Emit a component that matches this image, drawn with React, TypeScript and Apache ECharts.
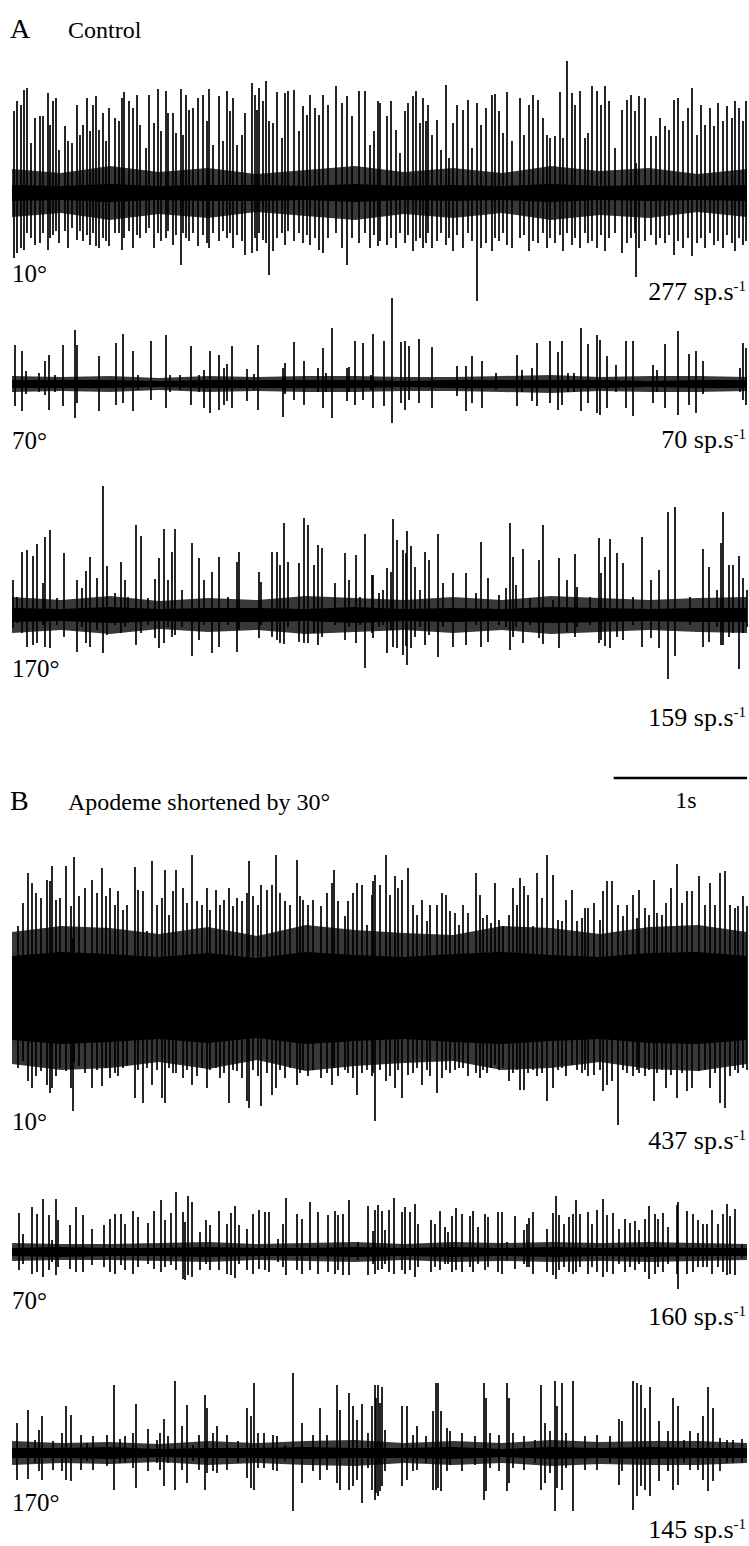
import React, { useEffect, useRef } from "react";
import * as echarts from "echarts";

// ---------- DATA ----------
// time is stored as sample-bin index (1 bin = 7.5 ms); amplitudes in arbitrary units
const BIN_MS = 7.5;
const N_BINS = 735;
const SCALE_BAR_MS = 1000;

const PANEL_LETTERS = ["A", "B"];
const PANEL_TITLES = ["Control", "Apodeme shortened by 30°"];
const ANGLES = ["10°", "70°", "170°", "10°", "70°", "170°"];
const RATES = ["277", "70", "159", "437", "160", "145"];
const RATE_UNIT = "sp.s";
const RATE_EXP = "-1";

const NOISE_BINS = [0, 49, 98, 147, 196, 245, 294, 343, 392, 441, 490, 539, 588, 637, 686, 735];

// [bin, up, down]
const A1_SPIKES = [
  [2,82,65],[5,92,60],[9,88,55],[12,103,57],[15,105,40],[19,50,45],[23,75,52],[28,77,50],[31,77,40],[36,100,57],
  [38,68,45],[41,92,42],[44,95,38],[47,43,50],[53,67,38],[56,52,55],[60,50,35],[65,88,47],[68,58,38],[71,68,48],
  [75,95,42],[78,62,52],[81,88,40],[84,97,53],[87,63,55],[91,80,45],[94,52,48],[97,85,53],[103,75,40],[107,72,40],
  [110,95,57],[112,101,45],[117,92,38],[121,85,55],[125,98,42],[128,68,45],[134,45,40],[137,98,35],[142,70,55],[146,104,40],
  [149,62,48],[154,102,45],[156,80,38],[161,80,52],[164,60,42],[169,104,72],[171,58,40],[174,98,45],[177,83,48],[181,85,40],
  [186,95,53],[191,98,42],[195,72,50],[197,104,55],[201,48,40],[207,97,48],[211,52,38],[215,102,45],[218,82,40],[221,95,55],
  [225,48,42],[230,58,48],[233,80,62],[240,110,60],[243,98,45],[245,83,58],[247,105,40],[251,92,47],[254,112,50],[257,72,82],
  [261,70,58],[265,101,45],[270,55,40],[273,100,52],[276,102,38],[282,103,48],[287,62,40],[291,87,50],[295,78,42],[298,98,52],
  [303,85,45],[307,78,57],[311,98,60],[316,88,45],[324,107,40],[330,90,55],[335,97,72],[340,77,45],[347,102,50],[353,102,40],
  [358,48,55],[362,62,42],[366,92,53],[368,90,48],[375,77,52],[379,92,45],[384,63,55],[388,40,40],[393,82,50],[396,90,42],
  [401,97,58],[404,102,48],[408,70,45],[411,95,55],[414,72,50],[416,88,40],[420,58,55],[425,73,48],[429,43,40],[434,108,52],
  [437,35,45],[441,70,58],[445,88,42],[451,83,55],[456,93,40],[460,45,48],[465,90,108],[469,68,55],[474,85,50],[480,98,58],
  [483,99,45],[487,82,48],[491,60,40],[495,101,52],[500,52,55],[508,95,45],[512,58,42],[517,88,58],[521,98,48],[526,93,50],
  [531,75,40],[535,58,55],[538,55,45],[543,57,50],[548,101,42],[551,55,58],[555,132,40],[560,100,52],[563,88,45],[568,102,55],
  [573,55,40],[576,60,50],[580,107,48],[585,102,55],[589,88,42],[593,107,58],[597,92,45],[603,45,40],[610,83,60],[615,93,50],
  [619,98,45],[623,82,40],[624,30,84],[627,97,55],[633,95,48],[639,57,42],[644,57,52],[648,75,45],[653,67,50],[657,63,42],
  [662,93,62],[666,95,48],[671,72,55],[676,85,45],[680,105,63],[685,58,50],[689,88,45],[693,68,55],[698,85,40],[702,67,52],
  [706,90,48],[711,72,55],[715,87,42],[720,75,50],[723,92,58],[727,85,45],[731,72,52],[734,92,48],
];
const A1_NOISE_CORE = [8, 7, 9, 7, 8, 8, 7, 9, 7, 8, 7, 9, 7, 8, 7, 8];
const A1_NOISE_HAIR = [24, 20, 27, 21, 25, 19, 23, 27, 21, 25, 20, 27, 22, 25, 19, 24];

const A2_SPIKES = [
  [3,39,22],[10,33,27],[14,13,10],[27,11,8],[33,23,11],[37,29,26],[43,9,8],[51,39,22],[63,54,34],[65,39,19],
  [87,28,27],[104,41,21],[111,50,19],[121,33,27],[126,9,6],[139,43,16],[154,49,24],[158,9,8],[168,9,6],[179,38,21],
  [187,9,8],[192,14,24],[198,33,29],[207,29,26],[212,16,21],[215,20,17],[220,38,24],[235,15,17],[242,10,6],[246,39,26],
  [271,16,33],[273,21,10],[282,42,16],[292,23,21],[306,16,8],[311,36,24],[314,11,8],[320,56,34],[335,16,17],[337,17,8],
  [343,43,21],[351,41,16],[359,9,6],[361,50,24],[372,43,22],[380,86,39],[389,42,19],[393,43,26],[397,38,16],[407,45,19],
  [420,37,24],[445,18,12],[454,18,27],[460,28,19],[470,23,24],[484,11,6],[505,29,22],[510,14,8],[520,16,17],[525,41,22],
  [538,43,19],[546,32,26],[550,43,21],[556,11,8],[562,11,8],[569,56,27],[576,40,19],[585,49,29],[588,44,31],[595,28,24],
  [604,19,8],[614,43,24],[621,43,32],[641,19,19],[645,14,8],[653,40,24],[666,53,31],[677,30,21],[684,33,29],[691,23,10],
  [728,16,8],[731,41,16],[734,36,21],
];
const A2_NOISE_CORE = [4, 4, 4, 3, 4, 4, 4, 4, 3, 4, 4, 4, 4, 3, 4, 4];
const A2_NOISE_HAIR = [8, 7, 8, 6, 8, 7, 8, 8, 7, 7, 8, 9, 7, 8, 8, 7];

const A3_SPIKES = [
  [1,35,13],[5,18,8],[10,63,18],[15,65,32],[21,59,30],[25,71,28],[31,32,10],[33,78,32],[38,85,33],[45,17,10],
  [52,62,22],[65,35,37],[70,27,12],[74,44,28],[78,58,32],[85,37,15],[91,129,38],[95,49,20],[103,22,10],[109,53,18],
  [113,35,12],[116,18,8],[124,90,30],[129,79,18],[136,17,10],[143,36,23],[147,57,33],[152,86,28],[156,35,12],[160,63,22],
  [163,86,20],[170,25,12],[180,72,41],[187,57,25],[192,35,10],[200,43,38],[207,58,32],[216,18,10],[225,53,37],[227,63,15],
  [247,43,23],[249,33,10],[260,63,22],[265,63,25],[268,50,28],[272,92,29],[276,53,12],[287,52,27],[292,97,28],[296,90,28],
  [302,50,18],[306,70,30],[310,67,22],[323,32,10],[333,62,25],[337,35,12],[344,60,28],[348,18,10],[353,81,53],[360,40,18],
  [361,40,23],[367,22,12],[371,25,10],[375,47,38],[379,43,15],[381,96,32],[385,75,33],[391,65,40],[394,62,31],[395,84,50],
  [399,69,33],[403,48,22],[408,25,12],[413,63,30],[417,55,20],[426,81,42],[431,32,12],[441,42,32],[454,42,30],[464,22,10],
  [469,73,32],[476,37,27],[487,20,10],[494,27,12],[498,92,35],[501,58,22],[504,30,12],[511,66,28],[518,17,10],[527,55,23],
  [531,90,29],[541,15,8],[547,57,33],[555,35,17],[563,61,22],[565,28,12],[578,18,10],[587,77,28],[589,42,25],[593,58,31],
  [598,76,33],[605,62,22],[611,52,25],[621,18,10],[630,78,32],[639,35,23],[647,45,33],[656,103,64],[663,108,41],[678,18,10],
  [691,66,32],[697,48,27],[705,25,12],[709,72,30],[711,103,30],[717,50,22],[721,50,18],[727,59,54],[731,37,18],[735,25,12],
];
const A3_NOISE_CORE = [7, 6, 8, 6, 7, 7, 6, 8, 6, 7, 6, 8, 7, 6, 7, 7];
const A3_NOISE_HAIR = [18, 15, 19, 14, 17, 15, 19, 17, 15, 18, 15, 19, 17, 15, 17, 18];

const B1_SPIKES = [
  [6,72,70],[11,95,63],[16,125,83],[20,115,90],[24,105,78],[29,100,73],[35,118,87],[38,117,95],[40,132,90],[44,98,78],
  [48,100,70],[54,132,73],[59,92,90],[61,60,113],[62,141,65],[67,102,68],[73,110,75],[80,118,90],[85,105,72],[90,130,88],
  [94,102,70],[98,110,80],[103,93,75],[106,107,78],[111,88,70],[115,93,68],[123,131,100],[126,108,72],[131,107,105],[135,67,70],
  [140,137,87],[145,93,72],[150,100,100],[153,128,105],[157,83,70],[161,107,75],[164,128,75],[171,110,80],[175,95,72],[180,143,87],
  [185,97,78],[190,93,70],[195,110,90],[198,88,72],[204,108,70],[208,93,80],[212,98,75],[217,110,105],[221,92,72],[225,100,73],
  [230,97,80],[235,105,103],[237,137,110],[241,102,72],[246,93,78],[249,113,108],[255,108,75],[260,113,97],[264,143,90],[268,105,72],
  [273,97,80],[278,93,70],[285,138,87],[288,102,75],[291,98,72],[296,93,78],[301,98,72],[309,92,80],[315,105,75],[320,115,87],
  [322,128,70],[326,97,78],[333,82,72],[336,97,75],[341,105,80],[345,115,97],[350,113,75],[355,73,72],[360,103,78],[361,117,75],
  [363,123,123],[368,113,72],[374,143,83],[378,103,78],[383,122,90],[386,110,72],[390,118,100],[396,130,77],[401,93,75],[405,83,70],
  [410,98,87],[415,77,72],[418,93,78],[425,93,95],[430,105,80],[434,103,72],[438,87,75],[443,85,72],[447,73,70],[451,93,70],
  [456,85,78],[464,125,75],[468,103,80],[471,80,72],[475,83,75],[479,75,70],[483,115,67],[487,78,72],[491,72,70],[497,83,83],
  [501,110,75],[505,93,72],[508,120,92],[512,112,92],[516,103,75],[521,72,72],[525,125,78],[530,100,75],[535,143,103],[541,123,90],
  [546,78,72],[550,77,70],[554,98,78],[560,108,67],[565,77,72],[570,80,75],[573,90,72],[576,90,78],[582,95,77],[588,78,72],
  [591,107,93],[595,117,87],[600,117,83],[606,93,127],[611,82,72],[615,93,75],[621,103,78],[625,80,72],[627,108,75],[633,90,78],
  [637,83,72],[642,118,103],[645,85,75],[650,83,72],[654,95,90],[659,110,77],[665,134,100],[670,95,75],[675,107,93],[680,107,90],
  [687,122,73],[693,93,72],[698,115,90],[703,93,75],[708,125,105],[713,127,110],[718,93,78],[723,90,72],[726,92,75],[731,102,70],
  [735,92,72],
];
const B1_NOISE_CORE = [42, 46, 44, 41, 45, 40, 46, 43, 41, 44, 46, 43, 41, 45, 46, 42];
const B1_NOISE_HAIR = [66, 72, 70, 64, 71, 62, 73, 68, 65, 63, 72, 70, 64, 71, 73, 66];

const B2_SPIKES = [
  [7,39,18],[11,18,12],[20,45,22],[25,38,20],[31,53,25],[37,37,18],[40,12,10],[44,53,23],[46,32,15],[58,27,17],
  [64,45,20],[71,37,20],[80,23,13],[92,27,15],[98,33,20],[103,38,22],[109,38,13],[113,28,18],[121,41,22],[126,35,15],
  [136,29,12],[142,41,17],[149,52,20],[153,32,15],[159,39,13],[164,60,18],[171,40,27],[173,30,28],[176,56,23],[180,50,25],
  [188,20,18],[194,32,12],[198,27,18],[207,41,18],[215,28,22],[219,39,23],[223,46,26],[227,27,12],[235,23,18],[241,38,22],
  [247,42,17],[253,40,18],[257,40,20],[266,13,10],[271,28,15],[274,54,23],[285,38,18],[290,33,22],[298,50,18],[306,40,22],
  [316,37,20],[323,41,22],[326,37,18],[331,38,23],[337,52,23],[346,10,8],[356,46,23],[361,21,12],[363,42,22],[366,47,18],
  [370,41,17],[373,22,12],[377,42,20],[382,54,22],[390,40,18],[393,45,22],[398,40,18],[403,48,25],[406,28,15],[419,32,20],
  [423,28,15],[428,41,18],[433,25,12],[436,20,12],[440,36,20],[444,44,18],[450,38,20],[458,36,15],[461,41,20],[466,25,12],
  [473,38,18],[476,35,15],[486,40,20],[490,40,22],[495,10,8],[503,36,17],[512,22,12],[515,28,15],[517,34,15],[521,40,22],
  [535,23,20],[541,39,23],[544,56,27],[547,37,18],[552,28,15],[557,35,20],[561,38,22],[564,52,20],[568,38,15],[576,40,22],
  [580,28,15],[585,42,20],[591,53,25],[595,37,20],[601,39,22],[607,23,12],[613,33,20],[618,29,15],[623,31,18],[627,22,12],
  [633,33,20],[637,46,27],[643,38,22],[646,33,15],[651,39,20],[656,25,12],[665,47,22],[666,50,37],[675,41,22],[681,38,20],
  [686,32,15],[691,28,15],[695,28,15],[700,42,22],[706,28,15],[711,38,20],[715,48,23],[718,36,22],[723,43,23],[730,8,6],
];
const B2_NOISE_CORE = [4, 5, 4, 4, 5, 4, 4, 5, 4, 5, 4, 5, 4, 5, 4, 4];
const B2_NOISE_HAIR = [9, 8, 8, 9, 10, 8, 9, 10, 8, 10, 9, 10, 9, 10, 9, 8];

const B3_SPIKES = [
  [5,30,27],[16,43,26],[23,13,10],[27,23,18],[30,37,27],[41,12,17],[50,20,18],[54,47,27],[59,38,28],[69,18,17],
  [75,10,8],[81,17,17],[95,18,13],[102,68,37],[108,14,10],[113,17,10],[121,20,15],[124,49,35],[136,24,18],[145,13,10],
  [148,20,17],[152,34,33],[156,17,10],[163,72,37],[170,27,17],[175,48,30],[181,8,8],[187,18,17],[193,58,37],[195,45,20],
  [201,20,18],[205,27,20],[215,18,17],[226,12,10],[235,45,25],[239,37,35],[242,70,37],[246,20,15],[252,20,15],[261,18,17],
  [265,17,18],[273,8,8],[281,80,58],[290,30,30],[301,18,18],[308,45,27],[315,18,17],[325,68,30],[328,43,37],[337,60,37],
  [341,47,33],[345,33,27],[350,49,50],[356,20,15],[360,47,37],[363,68,47],[364,55,40],[366,68,43],[368,50,38],[370,66,33],
  [373,23,18],[390,47,33],[395,47,27],[401,18,18],[405,27,17],[414,17,10],[421,42,37],[424,70,37],[426,70,35],[429,42,38],
  [435,25,18],[438,22,12],[450,20,18],[463,17,12],[472,70,47],[474,55,38],[478,20,15],[487,18,18],[495,70,38],[497,55,30],
  [501,20,15],[512,17,17],[523,13,10],[529,68,37],[533,30,30],[538,22,20],[543,72,58],[545,47,35],[550,70,37],[554,20,15],
  [561,72,58],[573,17,17],[585,18,17],[598,17,10],[607,34,32],[610,32,18],[621,72,57],[625,70,43],[629,68,33],[633,45,37],
  [638,66,43],[647,32,28],[656,22,18],[661,55,37],[666,47,32],[672,13,10],[678,22,17],[686,20,17],[691,37,27],[696,66,38],
  [701,45,28],[708,15,18],[715,13,10],[721,13,10],[730,14,10],
];
const B3_NOISE_CORE = [5, 5, 6, 4, 5, 5, 6, 5, 5, 6, 4, 6, 5, 6, 5, 5];
const B3_NOISE_HAIR = [12, 10, 11, 9, 12, 10, 12, 13, 10, 12, 10, 13, 11, 12, 12, 10];

const TRACES = [
  { spikes: A1_SPIKES, core: A1_NOISE_CORE, hair: A1_NOISE_HAIR },
  { spikes: A2_SPIKES, core: A2_NOISE_CORE, hair: A2_NOISE_HAIR },
  { spikes: A3_SPIKES, core: A3_NOISE_CORE, hair: A3_NOISE_HAIR },
  { spikes: B1_SPIKES, core: B1_NOISE_CORE, hair: B1_NOISE_HAIR },
  { spikes: B2_SPIKES, core: B2_NOISE_CORE, hair: B2_NOISE_HAIR },
  { spikes: B3_SPIKES, core: B3_NOISE_CORE, hair: B3_NOISE_HAIR },
];

// ---------- LAYOUT (pixels) ----------
const W = 749;
const H = 1546;
const PLOT_LEFT = 12;
const PLOT_RIGHT = 2;
const LAYOUT = [
  { center: 193, up: 140, down: 115, angleY: 273, rateY: 291 },
  { center: 384, up: 90, down: 45, angleY: 440, rateY: 439 },
  { center: 615, up: 135, down: 70, angleY: 668, rateY: 717 },
  { center: 998, up: 145, down: 130, angleY: 1121, rateY: 1140 },
  { center: 1252, up: 62, down: 40, angleY: 1300, rateY: 1316 },
  { center: 1453, up: 85, down: 65, angleY: 1502, rateY: 1529 },
];
const FONT = "'Liberation Serif', 'Times New Roman', serif";

function buildOption() {
  const grids: any[] = [];
  const xAxes: any[] = [];
  const yAxes: any[] = [];
  const series: any[] = [];
  const xMax = N_BINS * BIN_MS;

  TRACES.forEach((tr, i) => {
    const L = LAYOUT[i];
    grids.push({ left: PLOT_LEFT, right: PLOT_RIGHT, top: L.center - L.up, height: L.up + L.down });
    xAxes.push({ type: "value", gridIndex: i, min: 0, max: xMax, show: false });
    yAxes.push({ type: "value", gridIndex: i, min: -L.down, max: L.up, show: false });
    const band = (vals: number[], sign: number, color: string) => ({
      type: "line",
      xAxisIndex: i,
      yAxisIndex: i,
      data: NOISE_BINS.map((b, k) => [b * BIN_MS, sign * vals[k]]),
      symbol: "none",
      silent: true,
      lineStyle: { width: 0 },
      areaStyle: { color, opacity: 1, origin: 0 },
      z: 1,
    });
    series.push(band(tr.hair, 1, "rgba(0,0,0,0.78)"));
    series.push(band(tr.hair, -1, "rgba(0,0,0,0.78)"));
    series.push(band(tr.core, 1, "#000"));
    series.push(band(tr.core, -1, "#000"));
    series.push({
      type: "custom",
      xAxisIndex: i,
      yAxisIndex: i,
      silent: true,
      z: 3,
      data: tr.spikes.map((s) => [s[0] * BIN_MS, s[1], s[2]]),
      renderItem: (params: any, api: any) => {
        const t = api.value(0);
        const p1 = api.coord([t, api.value(1)]);
        const p2 = api.coord([t, -api.value(2)]);
        return {
          type: "line",
          shape: { x1: p1[0], y1: p1[1], x2: p2[0], y2: p2[1] },
          style: { stroke: "#000", lineWidth: 1.7 },
        };
      },
    });
  });

  // scale bar grid
  const sb = TRACES.length;
  grids.push({ left: PLOT_LEFT, right: PLOT_RIGHT, top: 770, height: 16 });
  xAxes.push({ type: "value", gridIndex: sb, min: 0, max: xMax, show: false });
  yAxes.push({ type: "value", gridIndex: sb, min: 0, max: 1, show: false });
  series.push({
    type: "line",
    xAxisIndex: sb,
    yAxisIndex: sb,
    data: [[xMax - SCALE_BAR_MS, 0.5], [xMax, 0.5]],
    symbol: "none",
    silent: true,
    lineStyle: { color: "#000", width: 2.5 },
  });

  const graphics: any[] = [];
  const textStyle = (text: string, size: number, align = "left") => ({
    text, fontSize: size, fontFamily: FONT, fill: "#000", align, verticalAlign: "middle",
  });
  const panelY = [28, 800];
  PANEL_LETTERS.forEach((l, k) => {
    graphics.push({ type: "text", x: 10, y: panelY[k], style: textStyle(l, 28) });
    graphics.push({ type: "text", x: 68, y: panelY[k] + 2, style: textStyle(PANEL_TITLES[k], 24) });
  });
  graphics.push({ type: "text", x: 686, y: 800, style: textStyle(`${SCALE_BAR_MS / 1000}s`, 24, "center") });

  LAYOUT.forEach((L, i) => {
    graphics.push({ type: "text", x: 12, y: L.angleY, style: textStyle(ANGLES[i], 25) });
    graphics.push({
      type: "text",
      x: 746,
      y: L.rateY,
      style: {
        text: `{n|${RATES[i]} ${RATE_UNIT}}{s|${RATE_EXP}}`,
        align: "right",
        verticalAlign: "middle",
        rich: {
          n: { fontSize: 26, fontFamily: FONT, fill: "#000", lineHeight: 26, verticalAlign: "bottom" },
          s: { fontSize: 15, fontFamily: FONT, fill: "#000", lineHeight: 15, verticalAlign: "top" },
        },
      },
    });
  });

  return {
    animation: false,
    backgroundColor: "#fff",
    grid: grids,
    xAxis: xAxes,
    yAxis: yAxes,
    series,
    graphic: graphics,
  };
}

export default function App() {
  const ref = useRef<HTMLDivElement>(null);
  useEffect(() => {
    if (!ref.current) return;
    const chart = echarts.init(ref.current, null, { renderer: "svg" });
    chart.setOption(buildOption() as any);
    return () => chart.dispose();
  }, []);
  return (
    <div
      ref={ref}
      style={{ position: "fixed", left: 0, top: 0, width: W, height: H, background: "#fff" }}
    />
  );
}
